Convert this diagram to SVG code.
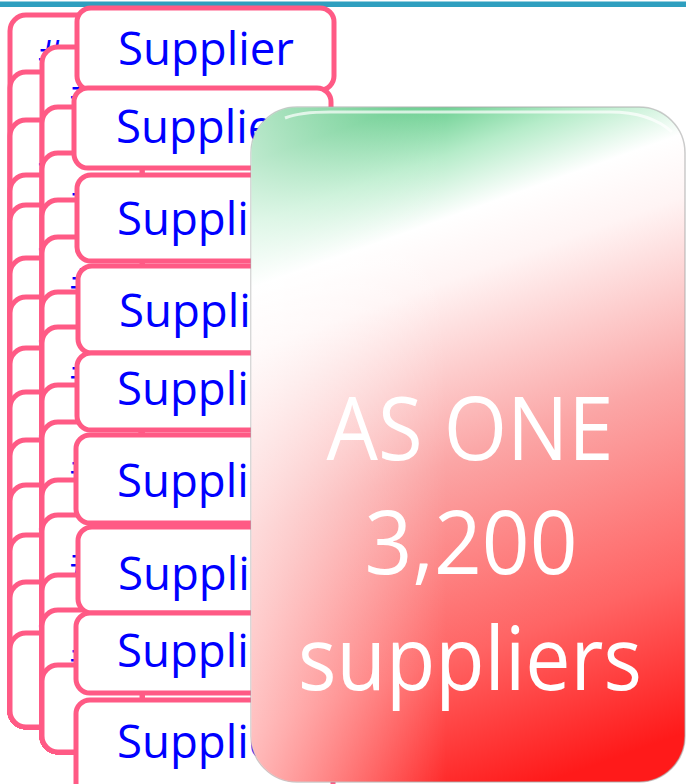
<svg xmlns="http://www.w3.org/2000/svg" width="686" height="784" viewBox="0 0 686 784">
<defs>
<style>
.card{fill:#ffffff;stroke:#ff5a85;stroke-width:5}
.lbl{font-family:"Open Sans","Noto Sans",sans-serif;font-size:46px;fill:#0000ff}
.frag{font-family:"Open Sans","Noto Sans",sans-serif;font-size:40px;fill:#0000ff}
.big{font-family:"Open Sans","Noto Sans",sans-serif;font-size:87px;fill:#ffffff;text-anchor:middle}
</style>
<linearGradient id="gr" gradientUnits="userSpaceOnUse" x1="275" y1="90" x2="525" y2="790">
<stop offset="0" stop-color="#3dbd6c"/>
<stop offset="0.08" stop-color="#5cc985"/>
<stop offset="0.16" stop-color="#b5ecc9"/>
<stop offset="0.24" stop-color="#ffffff"/>
<stop offset="0.32" stop-color="#fff4f4"/>
<stop offset="0.55" stop-color="#fba6a6"/>
<stop offset="0.8" stop-color="#ff6464"/>
<stop offset="1" stop-color="#ff1a1a"/>
</linearGradient>
<linearGradient id="glow" x1="0" y1="0" x2="1" y2="0">
<stop offset="0" stop-color="#ffffff" stop-opacity="0.6"/>
<stop offset="0.45" stop-color="#ffffff" stop-opacity="0"/>
</linearGradient>
</defs>
<rect x="0" y="1.5" width="686" height="5.5" fill="#2f9fbf"/>

<g id="back-column">
<rect class="card" x="10" y="15" width="100" height="712" rx="16"/>
<text class="frag" x="38" y="69">#</text>
<rect class="card" x="10" y="72" width="100" height="655" rx="16"/>
<rect class="card" x="10" y="120" width="100" height="607" rx="16"/>
<text class="frag" x="38" y="174">#</text>
<rect class="card" x="10" y="175" width="100" height="552" rx="16"/>
<rect class="card" x="10" y="205" width="100" height="522" rx="16"/>
<text class="frag" x="38" y="259">#</text>
<rect class="card" x="10" y="258" width="100" height="469" rx="16"/>
<rect class="card" x="10" y="297" width="100" height="430" rx="16"/>
<text class="frag" x="38" y="351">#</text>
<rect class="card" x="10" y="348" width="100" height="379" rx="16"/>
<rect class="card" x="10" y="392" width="100" height="335" rx="16"/>
<text class="frag" x="38" y="446">#</text>
<rect class="card" x="10" y="440" width="100" height="287" rx="16"/>
<rect class="card" x="10" y="485" width="100" height="242" rx="16"/>
<text class="frag" x="38" y="539">#</text>
<rect class="card" x="10" y="535" width="100" height="192" rx="16"/>
<rect class="card" x="10" y="582" width="100" height="145" rx="16"/>
<text class="frag" x="38" y="636">#</text>
<rect class="card" x="10" y="633" width="100" height="94" rx="16"/>
</g>

<g id="middle-column">
<rect class="card" x="42" y="47" width="100" height="705" rx="16"/>
<text class="frag" x="70" y="107">#</text>
<rect class="card" x="42" y="107" width="100" height="645" rx="16"/>
<rect class="card" x="42" y="153" width="100" height="599" rx="16"/>
<text class="frag" x="70" y="213">#</text>
<rect class="card" x="42" y="200" width="100" height="552" rx="16"/>
<rect class="card" x="42" y="237" width="100" height="515" rx="16"/>
<text class="frag" x="70" y="297">#</text>
<rect class="card" x="42" y="292" width="100" height="460" rx="16"/>
<rect class="card" x="42" y="327" width="100" height="425" rx="16"/>
<text class="frag" x="70" y="387">#</text>
<rect class="card" x="42" y="385" width="100" height="367" rx="16"/>
<rect class="card" x="42" y="422" width="100" height="330" rx="16"/>
<text class="frag" x="70" y="482">#</text>
<rect class="card" x="42" y="480" width="100" height="272" rx="16"/>
<rect class="card" x="42" y="515" width="100" height="237" rx="16"/>
<text class="frag" x="70" y="575">#</text>
<rect class="card" x="42" y="575" width="100" height="177" rx="16"/>
<rect class="card" x="42" y="610" width="100" height="142" rx="16"/>
<text class="frag" x="70" y="670">#</text>
<rect class="card" x="42" y="665" width="100" height="87" rx="16"/>
</g>

<g id="supplier-1"><rect class="card" x="77" y="8" width="257" height="82" rx="14"/><text class="lbl" x="118" y="65" textLength="176" lengthAdjust="spacingAndGlyphs">Supplier</text></g>
<g id="supplier-2"><rect class="card" x="74" y="88" width="257" height="80" rx="14"/><text class="lbl" x="116" y="143" textLength="176" lengthAdjust="spacingAndGlyphs">Supplier</text></g>
<g id="supplier-3"><rect class="card" x="77" y="175" width="257" height="86" rx="14"/><text class="lbl" x="117" y="235" textLength="176" lengthAdjust="spacingAndGlyphs">Supplier</text></g>
<g id="supplier-4"><rect class="card" x="78" y="266" width="257" height="87" rx="14"/><text class="lbl" x="119" y="327" textLength="176" lengthAdjust="spacingAndGlyphs">Supplier</text></g>
<g id="supplier-5"><rect class="card" x="77" y="353" width="257" height="77" rx="14"/><text class="lbl" x="117" y="405" textLength="176" lengthAdjust="spacingAndGlyphs">Supplier</text></g>
<g id="supplier-6"><rect class="card" x="76" y="435" width="257" height="88" rx="14"/><text class="lbl" x="117" y="497" textLength="176" lengthAdjust="spacingAndGlyphs">Supplier</text></g>
<g id="supplier-7"><rect class="card" x="78" y="527" width="257" height="86" rx="14"/><text class="lbl" x="118" y="590" textLength="176" lengthAdjust="spacingAndGlyphs">Supplier</text></g>
<g id="supplier-8"><rect class="card" x="76" y="613" width="257" height="80" rx="14"/><text class="lbl" x="117" y="667" textLength="176" lengthAdjust="spacingAndGlyphs">Supplier</text></g>
<g id="supplier-9"><rect class="card" x="76" y="700" width="257" height="100" rx="14"/><text class="lbl" x="117" y="758" textLength="176" lengthAdjust="spacingAndGlyphs">Supplier</text></g>

<g id="as-one">
<rect x="251" y="107" width="434" height="675" rx="46" fill="url(#gr)" stroke="#a8a8a8" stroke-opacity="0.6" stroke-width="1.5"/>
<rect x="251" y="107" width="434" height="675" rx="46" fill="url(#glow)"/>
<path d="M 285 118 Q 300 112 330 112 L 610 112 Q 650 112 672 132" fill="none" stroke="#ffffff" stroke-opacity="0.7" stroke-width="3"/>
<text class="big" x="470" y="460" textLength="287" lengthAdjust="spacingAndGlyphs">AS ONE</text>
<text class="big" x="471" y="574" textLength="213" lengthAdjust="spacingAndGlyphs">3,200</text>
<text class="big" x="470" y="690" textLength="344" lengthAdjust="spacingAndGlyphs">suppliers</text>
</g>
</svg>
